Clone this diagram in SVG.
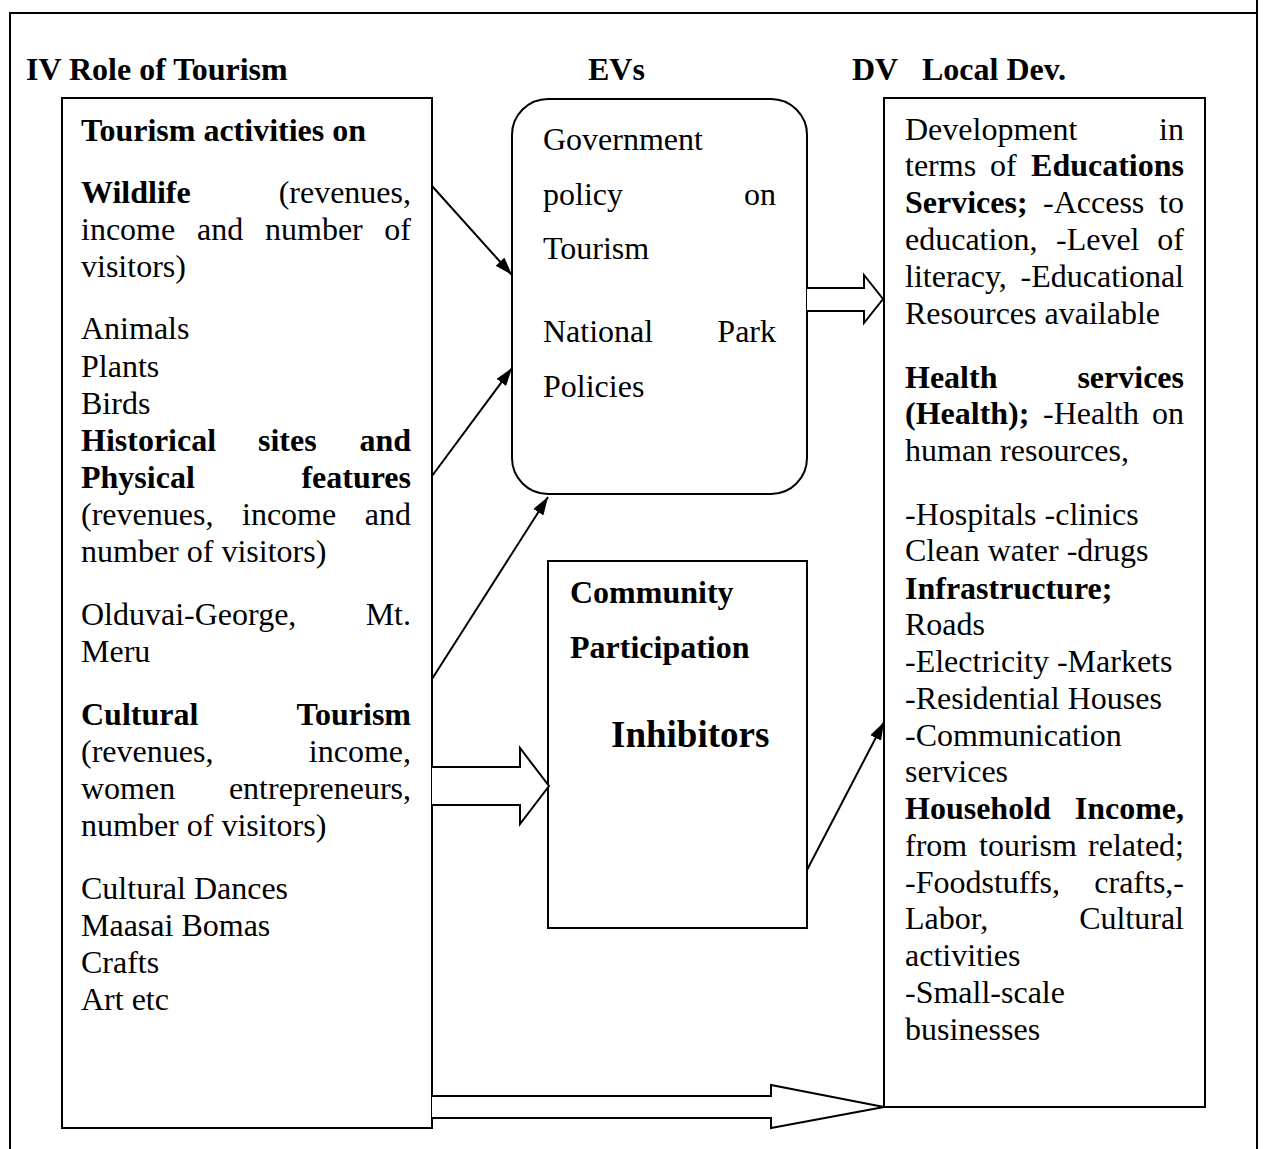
<svg xmlns="http://www.w3.org/2000/svg" width="1264" height="1149" viewBox="0 0 1264 1149">
<style>
text{font-family:"Liberation Serif","Times New Roman",serif;font-size:32px;fill:#000}
.b{font-weight:bold}
.box{fill:#fff;stroke:#000;stroke-width:2}
.ln{fill:none;stroke:#000;stroke-width:2}
.blk{fill:#fff;stroke:#000;stroke-width:2;stroke-linejoin:miter}
</style>
<defs>
<marker id="ah" viewBox="0 0 18 12" refX="18" refY="6" markerWidth="18" markerHeight="12" markerUnits="userSpaceOnUse" orient="auto">
<path d="M0,0 L18,6 L0,12 z" fill="#000"/>
</marker>
</defs>
<rect width="1264" height="1149" fill="#fff"/>
<g id="frame">
<path class="ln" d="M10,1149 V13 H1257"/>
<path class="ln" d="M1257,0 V1149"/>
</g>
<g id="headers">
<text class="b" x="26" y="80">IV Role of Tourism</text>
<text class="b" x="588" y="80">EVs</text>
<text class="b" x="852" y="80">DV</text>
<text class="b" x="922" y="80">Local Dev.</text>
</g>
<g id="node-iv">
<rect class="box" x="62" y="98" width="370" height="1030"/>
<text class="b" x="81" y="141">Tourism activities on</text>
<text x="81" y="203"><tspan class="b">Wildlife</tspan><tspan x="411" text-anchor="end">(revenues,</tspan></text>
<text x="81" y="240">income<tspan x="197">and</tspan><tspan x="265">number</tspan><tspan x="411" text-anchor="end">of</tspan></text>
<text x="81" y="277">visitors)</text>
<text x="81" y="339">Animals</text>
<text x="81" y="377">Plants</text>
<text x="81" y="414">Birds</text>
<text class="b" x="81" y="451">Historical<tspan x="258">sites</tspan><tspan x="411" text-anchor="end">and</tspan></text>
<text class="b" x="81" y="488">Physical<tspan x="411" text-anchor="end">features</tspan></text>
<text x="81" y="525">(revenues,<tspan x="242">income</tspan><tspan x="411" text-anchor="end">and</tspan></text>
<text x="81" y="562">number of visitors)</text>
<text x="81" y="625">Olduvai-George,<tspan x="411" text-anchor="end">Mt.</tspan></text>
<text x="81" y="662">Meru</text>
<text class="b" x="81" y="725">Cultural<tspan x="411" text-anchor="end">Tourism</tspan></text>
<text x="81" y="762">(revenues,<tspan x="411" text-anchor="end">income,</tspan></text>
<text x="81" y="799">women<tspan x="411" text-anchor="end">entrepreneurs,</tspan></text>
<text x="81" y="836">number of visitors)</text>
<text x="81" y="899">Cultural Dances</text>
<text x="81" y="936">Maasai Bomas</text>
<text x="81" y="973">Crafts</text>
<text x="81" y="1010">Art etc</text>
</g>
<g id="node-ev">
<rect class="box" x="512" y="99" width="295" height="395" rx="36" ry="36"/>
<text x="543" y="150">Government</text>
<text x="543" y="205">policy<tspan x="776" text-anchor="end">on</tspan></text>
<text x="543" y="259">Tourism</text>
<text x="543" y="342">National<tspan x="776" text-anchor="end">Park</tspan></text>
<text x="543" y="397">Policies</text>
</g>
<g id="node-community">
<rect class="box" x="548" y="561" width="259" height="367"/>
<text class="b" x="570" y="603">Community</text>
<text class="b" x="570" y="658">Participation</text>
<text class="b" x="611" y="747" style="font-size:37px">Inhibitors</text>
</g>
<g id="node-dv">
<rect class="box" x="884" y="98" width="321" height="1009"/>
<text x="905" y="140">Development<tspan x="1184" text-anchor="end">in</tspan></text>
<text x="905" y="176">terms<tspan x="990">of</tspan><tspan x="1184" text-anchor="end" class="b">Educations</tspan></text>
<text x="905" y="213"><tspan class="b">Services;</tspan><tspan x="1043">-Access</tspan><tspan x="1184" text-anchor="end">to</tspan></text>
<text x="905" y="250">education,<tspan x="1056">-Level</tspan><tspan x="1184" text-anchor="end">of</tspan></text>
<text x="905" y="287">literacy,<tspan x="1184" text-anchor="end">-Educational</tspan></text>
<text x="905" y="324">Resources available</text>
<text class="b" x="905" y="388">Health<tspan x="1184" text-anchor="end">services</tspan></text>
<text x="905" y="424"><tspan class="b">(Health);</tspan><tspan x="1043">-Health</tspan><tspan x="1184" text-anchor="end">on</tspan></text>
<text x="905" y="461">human resources,</text>
<text x="905" y="525">-Hospitals -clinics</text>
<text x="905" y="561">Clean water -drugs</text>
<text class="b" x="905" y="599">Infrastructure;</text>
<text x="905" y="635">Roads</text>
<text x="905" y="672">-Electricity -Markets</text>
<text x="905" y="709">-Residential Houses</text>
<text x="905" y="746">-Communication</text>
<text x="905" y="782">services</text>
<text class="b" x="905" y="819">Household<tspan x="1184" text-anchor="end">Income,</tspan></text>
<text x="905" y="856">from<tspan x="979">tourism</tspan><tspan x="1184" text-anchor="end">related;</tspan></text>
<text x="905" y="893">-Foodstuffs,<tspan x="1184" text-anchor="end">crafts,-</tspan></text>
<text x="905" y="929">Labor,<tspan x="1184" text-anchor="end">Cultural</tspan></text>
<text x="905" y="966">activities</text>
<text x="905" y="1003">-Small-scale</text>
<text x="905" y="1040">businesses</text>
</g>
<g id="connectors">
<line class="ln" x1="432" y1="186" x2="512" y2="275" marker-end="url(#ah)"/>
<line class="ln" x1="432" y1="476" x2="512" y2="368" marker-end="url(#ah)"/>
<line class="ln" x1="432" y1="679" x2="548" y2="497" marker-end="url(#ah)"/>
<line class="ln" x1="807" y1="870" x2="884" y2="722" marker-end="url(#ah)"/>
<polyline class="blk" points="807,288 864,288 864,275 883,299 864,323 864,311 807,311"/>
<polyline class="blk" points="432,767 520,767 520,748 549,786 520,824 520,805 432,805"/>
<polyline class="blk" points="432,1096 771,1096 771,1085 884,1107 771,1128 771,1118 432,1118"/>
</g>
</svg>
